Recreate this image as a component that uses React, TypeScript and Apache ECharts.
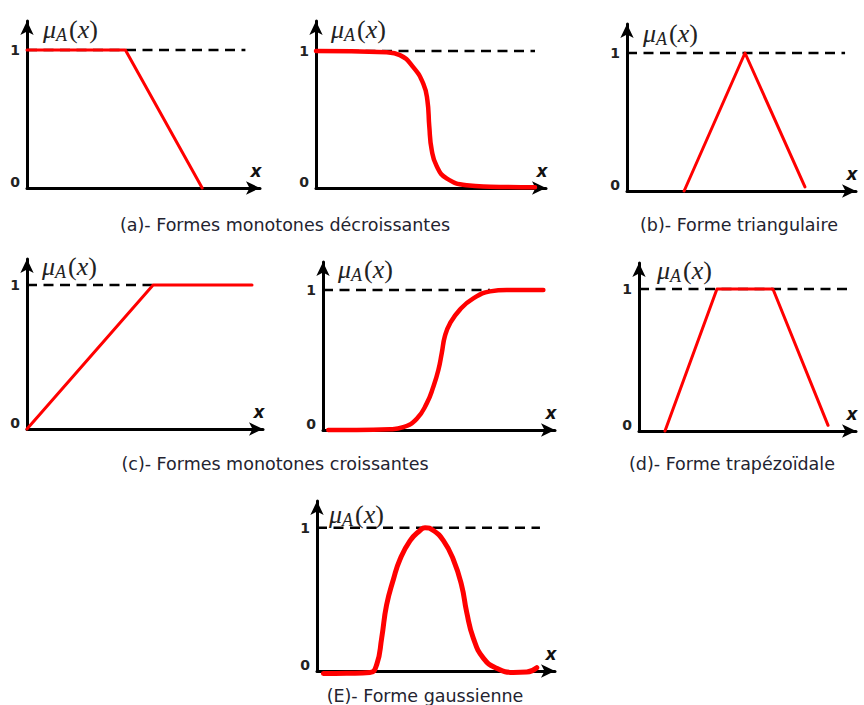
import React, { useEffect, useRef } from "react";
import * as echarts from "echarts";

// Abscissa units: 0..10 spans each x axis from the origin to the arrow tip.
// Ordinate: membership degree, 0..1.

// (a) monotone decreasing, piecewise linear
const decLinear = [[0, 1], [4.1, 1], [7.3, 0]];
// (a) monotone decreasing, smooth
const decSmooth = [
  [0, 1], [2.98, 0.99], [3.54, 0.97], [4.11, 0.88], [4.53, 0.76], [4.7, 0.64],
  [4.78, 0.45], [4.88, 0.28], [5.09, 0.16], [5.51, 0.07], [6.36, 0.02],
  [7.34, 0.01], [9.24, 0.005],
];
// (b) triangular
const triangle = [[2.42, 0], [5.0, 1], [7.54, 0.03]];
// (c) monotone increasing, piecewise linear
const incLinear = [[0, 0], [5.19, 1], [9.26, 1]];
// (c) monotone increasing, smooth
const incSmooth = [
  [0.22, 0], [1.41, 0], [2.8, 0.005], [3.36, 0.02], [3.92, 0.08], [4.34, 0.19],
  [4.62, 0.31], [4.83, 0.43], [4.97, 0.55], [5.1, 0.67], [5.31, 0.76],
  [5.73, 0.86], [6.29, 0.94], [6.99, 0.99], [7.69, 1], [9.22, 1],
];
// (d) trapezoidal
const trapezoid = [[1.16, 0], [3.48, 1], [5.98, 1], [8.44, 0.04]];
// (E) gaussian
const gaussian = [
  [0.26, -0.018], [1.21, -0.016], [2.16, -0.011], [2.44, 0.046], [2.64, 0.23],
  [2.84, 0.46], [3.12, 0.64], [3.39, 0.78], [3.8, 0.91], [4.2, 0.98], [4.41, 1],
  [4.75, 0.98], [5.16, 0.91], [5.56, 0.78], [5.9, 0.6], [6.11, 0.41],
  [6.38, 0.23], [6.79, 0.09], [7.33, 0.02], [8.01, -0.01], [8.56, -0.007],
  [8.97, 0.023],
];

// Dashed reference lines at full membership
const unityA = [[0, 1], [9.1, 1]];
const unityA2 = [[0, 1], [9.24, 1]];
const unityB = [[0, 1], [9.24, 1]];
const unityC = [[0, 1], [5.19, 1]];
const unityC2 = [[0, 1], [6.99, 1]];
const unityD = [[0, 1], [9.51, 1]];
const unityE = [[0, 1], [9.1, 1]];

const yTickLabels = ["0", "1"];
const xAxisName = "x";
const captions = [
  "(a)- Formes monotones décroissantes",
  "(b)- Forme triangulaire",
  "(c)- Formes monotones croissantes",
  "(d)- Forme trapézoïdale",
  "(E)- Forme gaussienne",
];

const X_SPAN = 10;
const ARROW = 7;
const RED = "#ff0000";

// Panel frames in pixels: origin, arrow tips, height of the "1" line, label placement
const panels = [
  { axisX: 27, axisY: 188, tipX: 267, tipY: 14, oneY: 50, muY: 29, muDx: 16, curve: decLinear, unity: unityA, smooth: false, w: 3 },
  { axisX: 316, axisY: 188, tipX: 553, tipY: 14, oneY: 51, muY: 29, muDx: 15, curve: decSmooth, unity: unityA2, smooth: true, w: 4.5 },
  { axisX: 627, axisY: 191, tipX: 863, tipY: 17, oneY: 53, muY: 33, muDx: 16, curve: triangle, unity: unityB, smooth: false, w: 3 },
  { axisX: 27, axisY: 429, tipX: 270, tipY: 252, oneY: 285, muY: 266, muDx: 15, curve: incLinear, unity: unityC, smooth: false, w: 3 },
  { axisX: 323, axisY: 430, tipX: 562, tipY: 255, oneY: 290, muY: 269, muDx: 15, curve: incSmooth, unity: unityC2, smooth: true, w: 4.5 },
  { axisX: 639, axisY: 431, tipX: 863, tipY: 256, oneY: 289, muY: 270, muDx: 18, curve: trapezoid, unity: unityD, smooth: false, w: 3 },
  { axisX: 317, axisY: 673, tipX: 562, tipY: 494, oneY: 528, muY: 514, muDx: 12, curve: gaussian, unity: unityE, smooth: true, w: 5 },
];

const captionPos = [
  { cx: 285, cy: 225 },
  { cx: 739, cy: 225 },
  { cx: 275, cy: 464 },
  { cx: 732, cy: 464 },
  { cx: 425, cy: 696 },
];

function buildOption() {
  const grid: any[] = [];
  const xAxis: any[] = [];
  const yAxis: any[] = [];
  const series: any[] = [];

  const axisLine = {
    show: true,
    onZero: false,
    symbol: ["none", "arrow"],
    symbolSize: [10, 14],
    lineStyle: { color: "#000", width: 3 },
  };

  panels.forEach((p, i) => {
    const top = p.tipY + ARROW;
    const right = p.tipX - ARROW;
    grid.push({ left: p.axisX, top, width: right - p.axisX, height: p.axisY - top });
    const xMax = (X_SPAN * (right - p.axisX)) / (p.tipX - p.axisX);
    const yMax = (p.axisY - top) / (p.axisY - p.oneY);

    xAxis.push({
      gridIndex: i,
      type: "value",
      min: 0,
      max: xMax,
      axisLine,
      axisTick: { show: false },
      axisLabel: { show: false },
      splitLine: { show: false },
      // second (blank) line lifts the letter above the axis
      name: xAxisName + "\n ",
      nameLocation: "end",
      nameGap: -4,
      nameTextStyle: {
        fontFamily: "DejaVu Sans",
        fontSize: 17,
        fontWeight: "bold",
        fontStyle: "italic",
        color: "#111",
        align: "center",
        verticalAlign: "middle",
        lineHeight: 34,
      },
    });

    yAxis.push({
      gridIndex: i,
      type: "value",
      min: 0,
      max: yMax,
      interval: 1,
      axisLine,
      axisTick: { show: false },
      splitLine: { show: false },
      axisLabel: {
        margin: 7,
        fontFamily: "DejaVu Sans",
        fontSize: 14,
        fontWeight: "bold",
        color: "#222",
        formatter: (v: number) =>
          v === 0 ? "{lo|" + yTickLabels[0] + "}" : v === 1 ? yTickLabels[1] : "",
        rich: {
          // the "0" sits slightly above the x axis
          lo: {
            fontFamily: "DejaVu Sans",
            fontSize: 14,
            fontWeight: "bold",
            color: "#222",
            padding: [0, 0, 12, 0],
          },
        },
      },
      name: "{mu|μ}{sub|A}{p|(}{it|x}{p|)}",
      nameLocation: "end",
      nameGap: top - p.muY,
      nameTextStyle: {
        align: "left",
        verticalAlign: "middle",
        padding: [0, 0, 0, p.muDx],
        color: "#222",
        rich: {
          mu: { fontFamily: "Liberation Serif", fontStyle: "italic", fontSize: 26, color: "#222" },
          sub: { fontFamily: "Liberation Serif", fontStyle: "italic", fontSize: 18, color: "#222", padding: [12, 2, 0, 0] },
          p: { fontFamily: "Liberation Serif", fontSize: 26, color: "#222" },
          it: { fontFamily: "Liberation Serif", fontStyle: "italic", fontSize: 26, color: "#222" },
        },
      },
    });

    series.push({
      type: "line",
      xAxisIndex: i,
      yAxisIndex: i,
      data: p.unity,
      symbol: "none",
      z: 2,
      lineStyle: { color: "#000", width: 2.5, type: [10, 6.5] },
    });
    series.push({
      type: "line",
      xAxisIndex: i,
      yAxisIndex: i,
      data: p.curve,
      symbol: "none",
      smooth: p.smooth ? 0.5 : false,
      clip: false,
      z: 3,
      lineStyle: { color: RED, width: p.w, cap: "round", join: "round" },
    });
  });

  const title = captions.map((text, i) => ({
    text,
    left: captionPos[i].cx,
    top: captionPos[i].cy - 9,
    textAlign: "center",
    padding: 0,
    textStyle: {
      fontFamily: "DejaVu Sans",
      fontSize: 17.5,
      fontWeight: "normal",
      color: "#232330",
      lineHeight: 18,
    },
  }));

  return {
    animation: false,
    backgroundColor: "#ffffff",
    title,
    grid,
    xAxis,
    yAxis,
    series,
  };
}

export default function App() {
  const ref = useRef<HTMLDivElement>(null);
  useEffect(() => {
    if (!ref.current) return;
    const chart = echarts.init(ref.current, undefined, { renderer: "svg" });
    chart.setOption(buildOption() as any);
    return () => chart.dispose();
  }, []);
  return (
    <div
      ref={ref}
      style={{ position: "absolute", left: 0, top: 0, width: 864, height: 705 }}
    />
  );
}
